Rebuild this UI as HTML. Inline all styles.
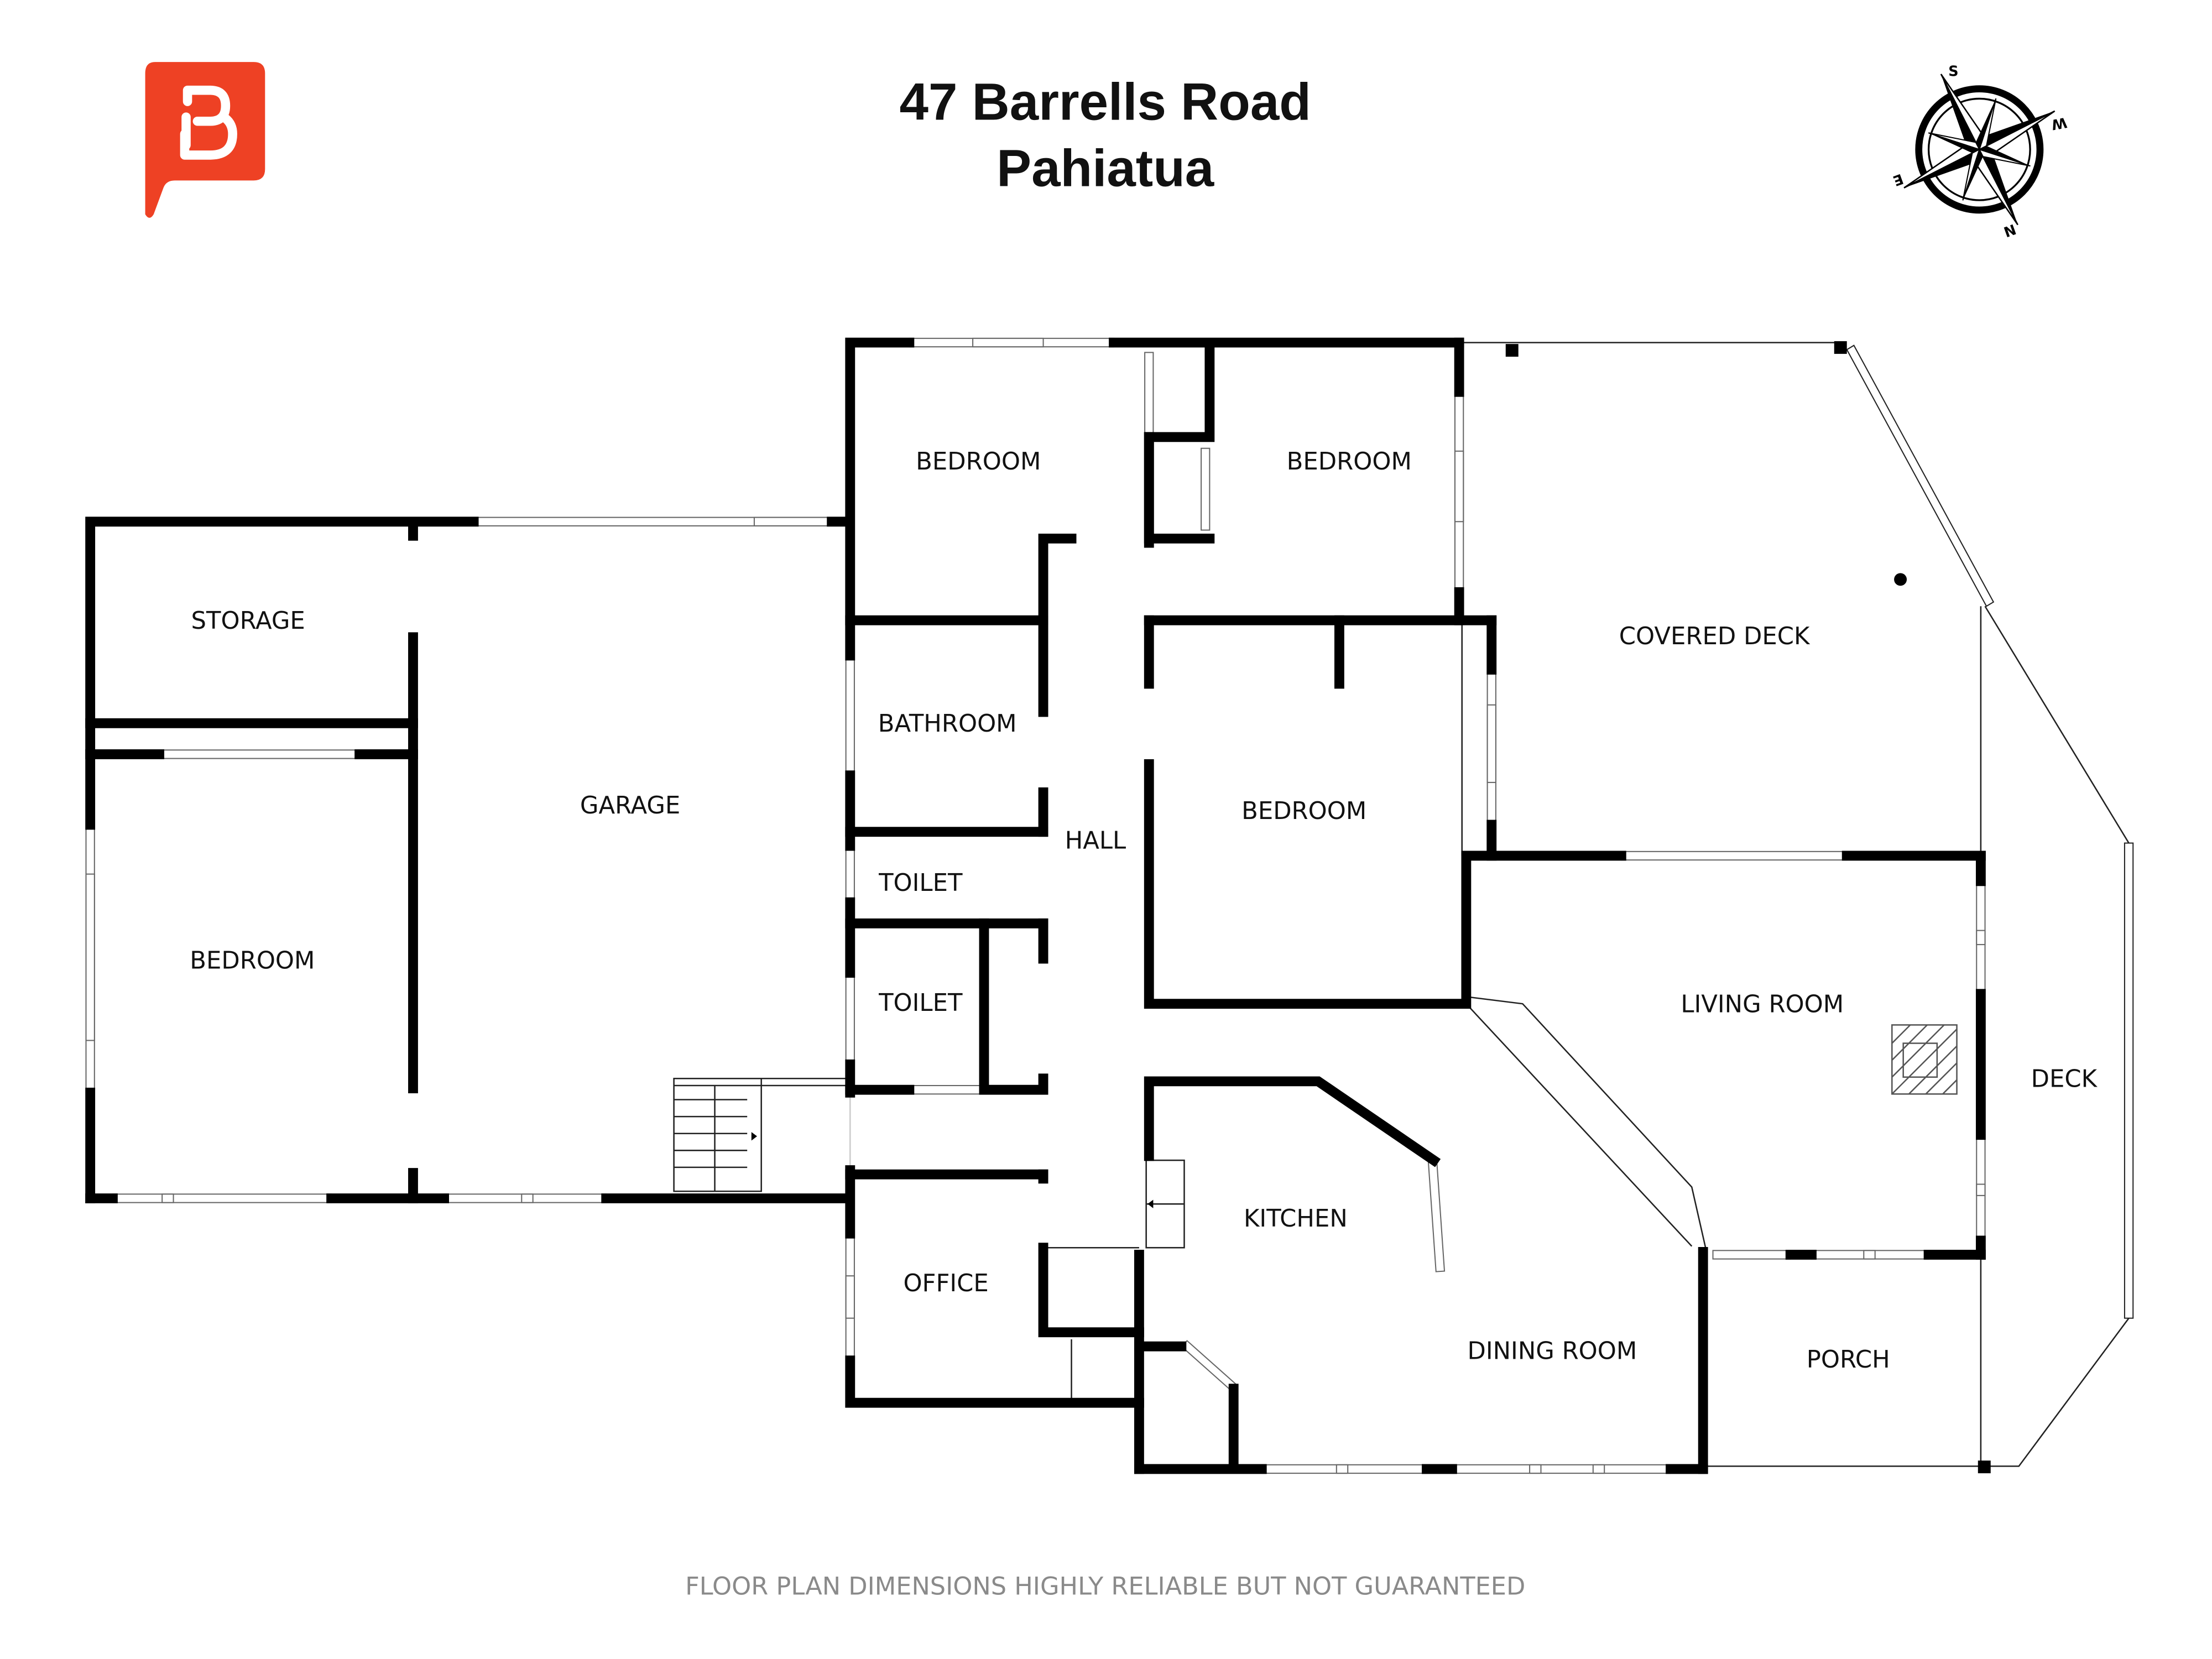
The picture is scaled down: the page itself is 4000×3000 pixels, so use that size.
<!DOCTYPE html>
<html><head><meta charset="utf-8"><style>
html,body{margin:0;padding:0;background:#fff;}
svg{display:block}
text{font-family:"DejaVu Sans","Liberation Sans",sans-serif;}
</style></head><body>
<svg width="4000" height="3000" viewBox="0 0 1569 1176.75" preserveAspectRatio="none" xmlns="http://www.w3.org/2000/svg">
<rect width="1569" height="1176.75" fill="#fff"/>
<!-- logo -->
<path d="M110,44 H180 Q188,44 188,52 V120 Q188,128 180,128 H124 Q118,128 116,133 L109,152 Q106,157 103,152 V52 Q103,44 110,44 Z" fill="#ee4124"/>
<path d="M132,103 V83 M133,72 V64 H149 Q160,64 160,75 Q160,86 149,86 H140 M160,84 Q165,88 165,95 Q165,110 149,110 H131 V95" fill="none" stroke="#fff" stroke-width="6.5" stroke-linecap="round" stroke-linejoin="round"/>
<!-- title -->
<text x="784" y="85" text-anchor="middle" font-size="37" font-weight="bold" fill="#111" style="font-family:'Liberation Sans',sans-serif">47 Barrells Road</text>
<text x="784" y="132" text-anchor="middle" font-size="37" font-weight="bold" fill="#111" style="font-family:'Liberation Sans',sans-serif">Pahiatua</text>
<!-- compass -->
<g transform="translate(1404,106)">
<circle r="43" fill="none" stroke="#000" stroke-width="5"/>
<circle r="36" fill="none" stroke="#000" stroke-width="1.3"/>
<g transform="rotate(-27)">
<g id="arm">
<polygon points="0,0 -7,-7 0,-60" fill="#000"/><polygon points="0,0 7,-7 0,-60" fill="#fff" stroke="#000" stroke-width="1"/>
</g>
<use href="#arm" transform="rotate(90)"/><use href="#arm" transform="rotate(180)"/><use href="#arm" transform="rotate(270)"/>
<g id="m"><polygon points="0,0 -4,-4 0,-38" transform="rotate(45)" fill="#000"/><polygon points="0,0 4,-4 0,-38" transform="rotate(45)" fill="#fff" stroke="#000" stroke-width="0.8"/></g>
<use href="#m" transform="rotate(90)"/><use href="#m" transform="rotate(180)"/><use href="#m" transform="rotate(270)"/>
</g>
<text x="-22" y="-52" font-size="10" font-family="Liberation Serif,serif" font-weight="bold">S</text>
<text x="54" y="-16" font-size="10" font-family="Liberation Serif,serif" font-weight="bold" transform="rotate(170 58 -19)">W</text>
<text x="18" y="62" font-size="10" font-family="Liberation Serif,serif" font-weight="bold" transform="rotate(160 22 58)">N</text>
<text x="-60" y="26" font-size="10" font-family="Liberation Serif,serif" font-weight="bold" transform="rotate(160 -57 22)">E</text>
</g>

<!-- thin lines -->
<g fill="none" stroke="#222" stroke-width="1">
<line x1="1037" y1="243" x2="1305" y2="243"/>
<line x1="1405" y1="430" x2="1405" y2="1040"/>
<polyline points="1408,430 1510,598"/>
<polyline points="1510,935 1432,1040 1210,1040"/>
<polyline points="1040,707 1080,712 1200,842 1210,886"/>
<line x1="1040" y1="712" x2="1200" y2="884"/>
<line x1="1037" y1="440" x2="1037" y2="607"/>
<rect x="478" y="765" width="62" height="80"/>
<line x1="478" y1="770" x2="600" y2="770"/>
<line x1="478" y1="765" x2="600" y2="765"/>
<line x1="478" y1="780" x2="530" y2="780"/><line x1="478" y1="792" x2="530" y2="792"/><line x1="478" y1="804" x2="530" y2="804"/><line x1="478" y1="816" x2="530" y2="816"/><line x1="478" y1="828" x2="530" y2="828"/>
<line x1="507" y1="770" x2="507" y2="845"/>
<rect x="813" y="823" width="27" height="62"/>
<line x1="813" y1="854" x2="840" y2="854"/>
<line x1="740" y1="885" x2="808" y2="885"/>
<line x1="760" y1="950" x2="760" y2="995"/>
<line x1="603" y1="775" x2="603" y2="830" stroke="#ccc"/>
</g>
<polygon points="533,803 537,806 533,809" fill="#000"/>
<polygon points="814,854 818,851 818,857" fill="#000"/>
<!-- windows -->
<g fill="#fff" stroke="#666" stroke-width="0.8">
<rect x="336" y="367" width="254" height="6"/><rect x="535" y="367" width="55" height="6"/>
<rect x="61" y="585" width="6" height="190"/><rect x="61" y="620" width="6" height="118"/>
<rect x="80" y="847" width="155" height="6"/><rect x="115" y="847" width="8" height="6"/>
<rect x="315" y="847" width="115" height="6"/><rect x="370" y="847" width="8" height="6"/>
<rect x="113" y="532" width="142" height="6"/>
<rect x="645" y="240" width="145" height="6"/><rect x="690" y="240" width="50" height="6"/>
<rect x="600" y="465" width="6" height="85"/><rect x="600" y="600" width="6" height="40"/><rect x="600" y="690" width="6" height="65"/><rect x="600" y="875" width="6" height="90"/><rect x="600" y="905" width="6" height="30"/>
<rect x="1032" y="278" width="6" height="142"/><rect x="1032" y="320" width="6" height="50"/>
<rect x="1055" y="475" width="6" height="110"/><rect x="1055" y="500" width="6" height="55"/>
<rect x="812" y="250" width="6" height="60"/>
<rect x="852" y="318" width="6" height="58"/>
<rect x="1150" y="604" width="160" height="6"/>
<rect x="1402" y="625" width="6" height="80"/><rect x="1402" y="660" width="6" height="10"/>
<rect x="1402" y="805" width="6" height="75"/><rect x="1402" y="840" width="6" height="8"/>
<rect x="1215" y="887" width="55" height="6"/><rect x="1285" y="887" width="83" height="6"/><rect x="1322" y="887" width="8" height="6"/>
<rect x="895" y="1039" width="117" height="6"/><rect x="948" y="1039" width="8" height="6"/>
<rect x="1030" y="1039" width="155" height="6"/><rect x="1085" y="1039" width="8" height="6"/><rect x="1130" y="1039" width="8" height="6"/>
<rect x="1507" y="598" width="6" height="337" stroke="#222"/>
<rect x="1013" y="822" width="6" height="80" transform="rotate(-4 1016 822)"/>
<rect x="648" y="770" width="47" height="6"/>
<polygon points="1310,248 1315,245 1414,427 1409,430" stroke="#222"/>
<polygon points="838,955 842,951 878,983 874,987"/>
</g>
<!-- walls -->
<g fill="none" stroke="#000" stroke-width="7" stroke-linecap="square">
<polyline points="336,370 64,370 64,585"/>
<line x1="64" y1="775" x2="64" y2="850"/>
<line x1="64" y1="850" x2="80" y2="850"/>
<line x1="235" y1="850" x2="315" y2="850"/>
<line x1="430" y1="850" x2="600" y2="850"/>
<line x1="590" y1="370" x2="600" y2="370"/>
<line x1="64" y1="513" x2="293" y2="513"/>
<line x1="64" y1="535" x2="113" y2="535"/>
<line x1="255" y1="535" x2="293" y2="535"/>
<line x1="293" y1="376" x2="293" y2="380"/>
<line x1="293" y1="452" x2="293" y2="772"/>
<line x1="293" y1="832" x2="293" y2="850"/>
<polyline points="603,465 603,243 645,243"/>
<line x1="790" y1="243" x2="1035" y2="243"/>
<line x1="603" y1="550" x2="603" y2="600"/><line x1="603" y1="640" x2="603" y2="690"/><line x1="603" y1="755" x2="603" y2="775"/>
<line x1="603" y1="830" x2="603" y2="875"/>
<polyline points="603,965 603,995 808,995"/>
<polyline points="1035,243 1035,278"/><polyline points="1035,420 1035,440"/>
<line x1="603" y1="440" x2="740" y2="440"/>
<polyline points="760,382 740,382 740,505"/>
<line x1="740" y1="562" x2="740" y2="590"/>
<line x1="603" y1="590" x2="740" y2="590"/>
<line x1="603" y1="655" x2="740" y2="655"/>
<line x1="740" y1="655" x2="740" y2="680"/>
<polyline points="698,655 698,773 740,773 740,765"/>
<line x1="603" y1="773" x2="645" y2="773"/>
<line x1="603" y1="833" x2="740" y2="833"/>
<line x1="740" y1="833" x2="740" y2="836"/>
<polyline points="740,885 740,945 808,945"/>
<line x1="808" y1="890" x2="808" y2="1042"/>
<polyline points="858,248 858,310 815,310 815,382 858,382"/>
<line x1="815" y1="310" x2="815" y2="385"/>
<line x1="815" y1="440" x2="1058" y2="440"/>
<polyline points="1058,440 1058,475"/><line x1="1058" y1="585" x2="1058" y2="607"/>
<line x1="815" y1="440" x2="815" y2="485"/>
<polyline points="815,542 815,712 1040,712 1040,607 1150,607"/>
<line x1="950" y1="440" x2="950" y2="485"/>
<line x1="1310" y1="607" x2="1405" y2="607"/>
<line x1="1405" y1="607" x2="1405" y2="625"/>
<line x1="1405" y1="705" x2="1405" y2="805"/>
<line x1="1405" y1="880" x2="1405" y2="890"/>
<line x1="1368" y1="890" x2="1405" y2="890"/>
<line x1="1270" y1="890" x2="1285" y2="890"/>
<line x1="1208" y1="888" x2="1208" y2="1042"/>
<polyline points="815,820 815,767 935,767 1017,823"/>
<polyline points="808,955 838,955"/>
<polyline points="875,985 875,1040"/>
<line x1="808" y1="1042" x2="895" y2="1042"/>
<line x1="1012" y1="1042" x2="1030" y2="1042"/>
<line x1="1185" y1="1042" x2="1208" y2="1042"/>
</g>
<g fill="#000">
<rect x="1068" y="244" width="9" height="9"/><rect x="1301" y="242" width="9" height="9"/><rect x="1403" y="1036" width="9" height="9"/>
<circle cx="1348" cy="411" r="4.5"/>
</g>
<g fill="none" stroke="#555" stroke-width="1">
<rect x="1342" y="727" width="46" height="49"/>
<rect x="1350" y="740" width="24" height="24"/>
<path d="M1342,740 l13,-13 M1342,752 l25,-25 M1342,764 l37,-37 M1342,776 l46,-46 M1354,776 l34,-34 M1366,776 l22,-22 M1378,776 l10,-10"/>
</g>
<g font-size="17" fill="#111" text-anchor="middle">
<text x="176" y="446">STORAGE</text>
<text x="179" y="687">BEDROOM</text>
<text x="447" y="577">GARAGE</text>
<text x="694" y="333">BEDROOM</text>
<text x="957" y="333">BEDROOM</text>
<text x="1216" y="457">COVERED DECK</text>
<text x="672" y="519">BATHROOM</text>
<text x="777" y="602">HALL</text>
<text x="925" y="581">BEDROOM</text>
<text x="653" y="632">TOILET</text>
<text x="653" y="717">TOILET</text>
<text x="1250" y="718">LIVING ROOM</text>
<text x="1464" y="771">DECK</text>
<text x="919" y="870">KITCHEN</text>
<text x="671" y="916">OFFICE</text>
<text x="1101" y="964">DINING ROOM</text>
<text x="1311" y="970">PORCH</text>
</g>
<text x="784" y="1131" text-anchor="middle" font-size="17.5" fill="#8a8a8a">FLOOR PLAN DIMENSIONS HIGHLY RELIABLE BUT NOT GUARANTEED</text>
</svg>
</body></html>
